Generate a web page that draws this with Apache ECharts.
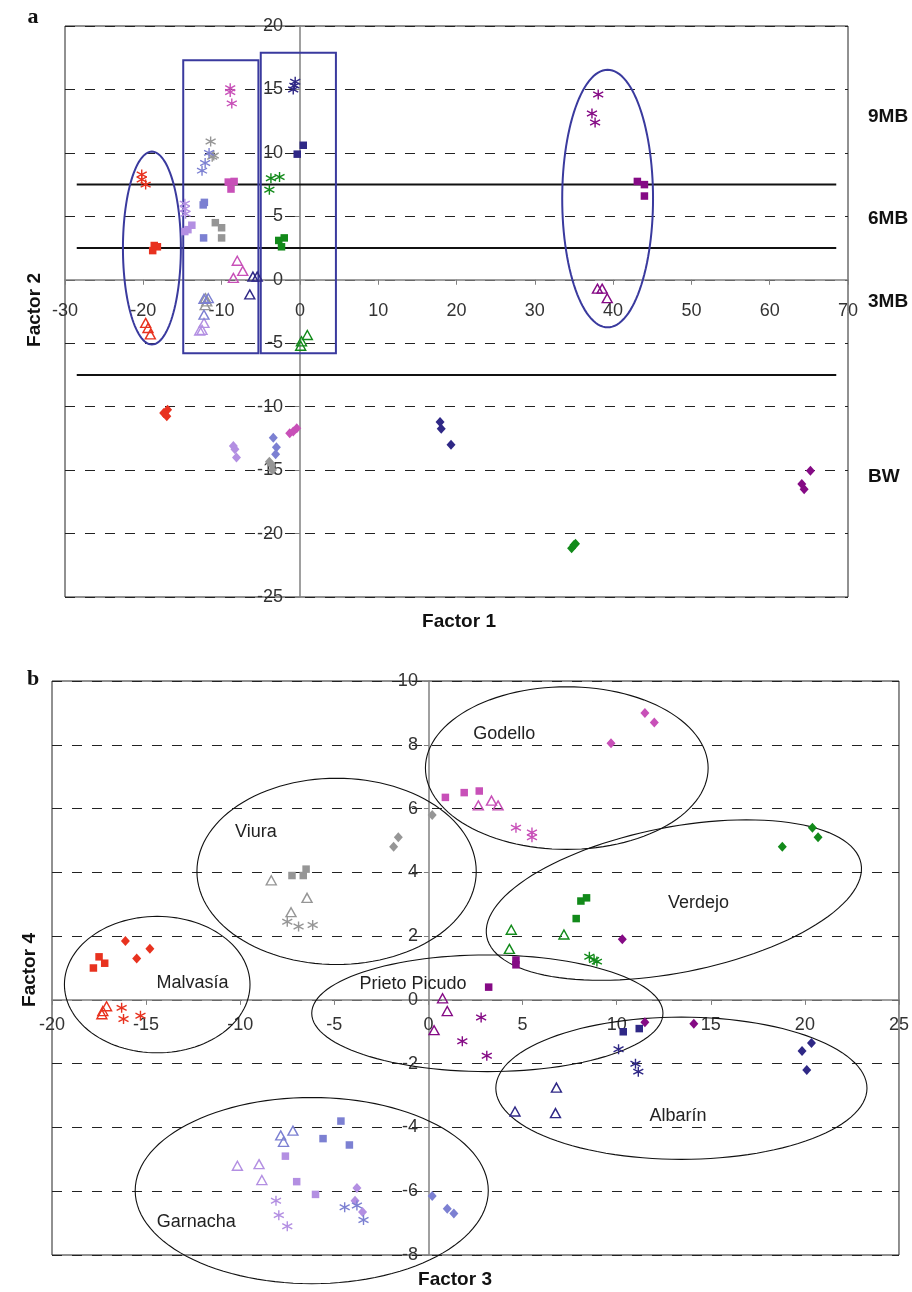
<!DOCTYPE html>
<html><head><meta charset="utf-8">
<script src="https://cdn.jsdelivr.net/npm/echarts@6/dist/echarts.min.js"></script>
<style>html,body{margin:0;padding:0;background:#fff}#c{width:912px;height:1292px}</style>
</head><body><div id="c"></div><script>
// Variety index: 0 Malvasía, 1 Viura, 2 Godello, 3 Verdejo, 4 Prieto Picudo, 5 Albarín, 6 Garnacha (lilac), 7 Garnacha (blue)
const VARIETIES = ['Malvasía','Viura','Godello','Verdejo','Prieto Picudo','Albarín','Garnacha','Garnacha 2'];
const METHODS = ['BW','3MB','6MB','9MB'];

// Panel a: [Factor 1, Factor 2, variety]
const A_BW = [[-17.4,-10.5,0],[-16.9,-10.25,0],[-17.0,-10.75,0],
 [-3.9,-14.35,1],[-3.6,-14.6,1],[-3.5,-15.0,1],
 [-1.3,-12.1,2],[-0.85,-11.95,2],[-0.4,-11.7,2],
 [34.7,-21.15,3],[35.0,-20.9,3],[35.2,-20.8,3],
 [65.2,-15.05,4],[64.1,-16.1,4],[64.4,-16.5,4],
 [17.9,-11.2,5],[18.05,-11.75,5],[19.3,-13.0,5],
 [-8.5,-13.1,6],[-8.3,-13.35,6],[-8.1,-14.0,6],
 [-3.4,-12.45,7],[-3.0,-13.2,7],[-3.1,-13.75,7]];
const A_3MB = [[-19.7,-3.4,0],[-19.4,-3.8,0],[-19.1,-4.3,0],
 [-12.05,-1.45,1],[-11.9,-1.7,1],[-12.1,-2.0,1],
 [-8.0,1.5,2],[-7.3,0.7,2],[-8.5,0.15,2],
 [0.95,-4.35,3],[0.2,-4.85,3],[0.1,-5.2,3],
 [38.0,-0.7,4],[38.6,-0.7,4],[39.25,-1.45,4],
 [-6.0,0.25,5],[-5.45,0.25,5],[-6.4,-1.15,5],
 [-12.25,-3.4,6],[-12.5,-3.95,6],[-12.8,-4.0,6],
 [-12.25,-1.5,7],[-11.7,-1.45,7],[-12.25,-2.75,7]];
const A_6MB = [[-18.6,2.7,0],[-18.2,2.6,0],[-18.8,2.3,0],
 [-10.8,4.5,1],[-10.0,4.1,1],[-10.0,3.3,1],
 [-9.15,7.7,2],[-8.4,7.75,2],[-8.8,7.15,2],
 [-2.7,3.1,3],[-2.0,3.3,3],[-2.35,2.6,3],
 [43.1,7.75,4],[44.0,7.5,4],[44.0,6.6,4],
 [0.43,10.6,5],[-0.34,9.9,5],
 [-14.7,3.8,6],[-13.8,4.3,6],[-14.3,3.95,6],
 [-12.2,6.1,7],[-12.35,5.9,7],[-12.3,3.3,7]];
const A_9MB = [[-20.2,8.3,0],[-20.2,7.9,0],[-19.7,7.5,0],
 [-11.4,10.9,1],[-11.0,9.8,1],[-11.2,9.7,1],
 [-8.9,15.1,2],[-8.9,14.8,2],[-8.7,13.9,2],
 [-3.7,8.0,3],[-2.6,8.1,3],[-3.9,7.1,3],
 [38.1,14.6,4],[37.3,13.1,4],[37.7,12.4,4],
 [-0.6,15.6,5],[-0.7,15.3,5],[-0.85,15.0,5],
 [-14.7,6.0,6],[-14.7,5.6,6],[-14.6,5.2,6],
 [-11.6,10.0,7],[-12.1,9.2,7],[-12.5,8.6,7]];

// Panel b: [Factor 3, Factor 4, variety]
const B_BW = [[-16.1,1.85,0],[-15.5,1.3,0],[-14.8,1.6,0],
 [-1.85,4.8,1],[-1.6,5.1,1],[0.2,5.8,1],
 [11.5,9.0,2],[12.0,8.7,2],[9.7,8.05,2],
 [20.4,5.4,3],[20.7,5.1,3],[18.8,4.8,3],
 [10.3,1.9,4],[11.5,-0.7,4],[14.1,-0.75,4],
 [20.35,-1.35,5],[19.85,-1.6,5],[20.1,-2.2,5],
 [-3.8,-5.9,6],[-3.9,-6.3,6],[-3.5,-6.65,6],
 [0.2,-6.15,7],[1.0,-6.55,7],[1.35,-6.7,7]];
const B_3MB = [[-17.35,-0.45,0],[-17.3,-0.35,0],[-17.1,-0.2,0],
 [-8.35,3.75,1],[-6.45,3.2,1],[-7.3,2.75,1],
 [2.65,6.1,2],[3.35,6.25,2],[3.7,6.1,2],
 [4.4,2.2,3],[4.3,1.6,3],[7.2,2.05,3],
 [0.75,0.05,4],[1.0,-0.35,4],[0.3,-0.95,4],
 [6.8,-2.75,5],[4.6,-3.5,5],[6.75,-3.55,5],
 [-10.15,-5.2,6],[-9.0,-5.15,6],[-8.85,-5.65,6],
 [-7.2,-4.1,7],[-7.85,-4.25,7],[-7.7,-4.45,7]];
const B_6MB = [[-17.8,1.0,0],[-17.5,1.35,0],[-17.2,1.15,0],
 [-7.25,3.9,1],[-6.65,3.9,1],[-6.5,4.1,1],
 [0.9,6.35,2],[1.9,6.5,2],[2.7,6.55,2],
 [8.1,3.1,3],[8.4,3.2,3],[7.85,2.55,3],
 [4.65,1.25,4],[4.65,1.1,4],[3.2,0.4,4],
 [10.35,-1.0,5],[11.2,-0.9,5],
 [-7.6,-4.9,6],[-7.0,-5.7,6],[-6.0,-6.1,6],
 [-4.65,-3.8,7],[-5.6,-4.35,7],[-4.2,-4.55,7]];
const B_9MB = [[-16.3,-0.25,0],[-16.2,-0.6,0],[-15.3,-0.5,0],
 [-7.5,2.45,1],[-6.9,2.3,1],[-6.15,2.35,1],
 [4.65,5.4,2],[5.5,5.25,2],[5.5,5.1,2],
 [8.55,1.35,3],[8.95,1.2,3],[8.8,1.25,3],
 [2.8,-0.55,4],[1.8,-1.3,4],[3.1,-1.75,4],
 [10.1,-1.55,5],[11.0,-2.0,5],[11.15,-2.25,5],
 [-8.1,-6.3,6],[-7.95,-6.75,6],[-7.5,-7.1,6],
 [-4.45,-6.5,7],[-3.8,-6.45,7],[-3.45,-6.9,7]];

// Annotations (data units)
const A_BOUNDARY_Y = [7.5, 2.5, -7.5];
const A_BOUNDARY_X = [-28.5, 68.5];
const A_BOUNDARY_LABELS = ['9MB','6MB','3MB','BW'];
const A_ELLIPSES = [[-18.9,2.5,3.7,7.6,0],[39.3,6.4,5.8,10.15,0]];
const A_RECTS = [[-14.9,-5.8,-5.3,17.3],[-5.0,-5.8,4.6,17.9]];
const B_ELLIPSES = [[7.35,7.27,7.51,2.55,0],[-4.88,4.03,7.42,2.92,0],[13.04,3.13,10.13,2.28,11.1],
 [-14.41,0.48,4.93,2.14,0],[3.13,-0.42,9.33,1.83,0],[13.44,-2.77,9.86,2.23,0],[-6.2,-5.98,9.38,2.92,0]];
const B_LABELS = [['Godello',4.03,8.34],['Viura',-9.17,5.25],['Malvasía',-12.53,0.52],['Prieto Picudo',-0.82,0.5],
 ['Verdejo',14.35,3.03],['Albarín',13.26,-3.63],['Garnacha',-12.34,-6.97]];

const COLORS = ['#e8321f','#969696','#c850b8','#128a1a','#850a85','#2f2886','#b38fe2','#7c80d2'];
const FONT = 'Liberation Sans, Arial, sans-serif';

const GRIDS = [
  {left:65, top:26, width:783, height:571},
  {left:52, top:681, width:848, height:574}
];
const X_RANGES = [[-30,70,10],[-20,25,5]];
const Y_RANGES = [[-25,20,5],[-8,10,2]];

const chart = echarts.init(document.getElementById('c'), null, {renderer:'canvas'});

function axisCommon(){
  return {
    type:'value',
    axisLine:{onZero:false, lineStyle:{color:'#808080', width:1.5}},
    axisTick:{show:true, length:5, lineStyle:{color:'#808080'}},
    splitLine:{show:false},
    axisLabel:{fontSize:18, color:'#333', fontFamily:FONT}
  };
}
const X_MARGINS = [22, 16], Y_MARGINS = [17, 11];
const xAxes = X_RANGES.map((r, i) => {
  const a = axisCommon();
  const g = GRIDS[i];
  const yr = Y_RANGES[i];
  const off = -g.height * (0 - yr[0]) / (yr[1] - yr[0]);
  return Object.assign(a, {gridIndex:i, position:'bottom', offset:off, min:r[0], max:r[1], interval:r[2],
    axisLabel:Object.assign(a.axisLabel, {margin:X_MARGINS[i]})});
});
const yAxes = Y_RANGES.map((r, i) => {
  const a = axisCommon();
  const g = GRIDS[i];
  const xr = X_RANGES[i];
  const off = -g.width * (0 - xr[0]) / (xr[1] - xr[0]);
  return Object.assign(a, {gridIndex:i, position:'left', offset:off, min:r[0], max:r[1], interval:r[2],
    axisLabel:Object.assign(a.axisLabel, {margin:Y_MARGINS[i]}),
    splitLine:{show:true, lineStyle:{type:[10,10], color:'#222', width:1}}});
});

const SYMBOLS = {
  BW:'diamond', '3MB':'triangle', '6MB':'rect',
  '9MB':'path://M5,0L5,10M0.6,2.4L9.4,7.6M0.6,7.6L9.4,2.4'
};
const SIZES = {BW:[9,10], '3MB':[10,9], '6MB':7.5, '9MB':10};

const series = [];
function addPanel(panel, sets){
  METHODS.forEach((m, mi) => {
    const arr = sets[mi];
    VARIETIES.forEach((v, vi) => {
      const pts = arr.filter(p => p[2] === vi).map(p => [p[0], p[1]]);
      if (!pts.length) return;
      const c = COLORS[vi];
      let itemStyle;
      if (m === '3MB' || m === '9MB') itemStyle = {color:'rgba(255,255,255,0)', borderColor:c, borderWidth:1.4, opacity:1};
      else itemStyle = {color:c, opacity:1};
      series.push({
        type:'scatter', name:v+' '+m, xAxisIndex:panel, yAxisIndex:panel,
        data:pts, symbol:SYMBOLS[m], symbolSize:SIZES[m], itemStyle,
        silent:true, z:5, emphasis:{disabled:true}
      });
    });
  });
}
addPanel(0, [A_BW, A_3MB, A_6MB, A_9MB]);
addPanel(1, [B_BW, B_3MB, B_6MB, B_9MB]);

function ellipsePoints(c, rx, ry, rotDeg){
  const phi = rotDeg*Math.PI/180, pts = [];
  for (let i=0;i<120;i++){
    const t = i/120*Math.PI*2;
    const a = rx*Math.cos(t), b = ry*Math.sin(t);
    pts.push([c[0] + a*Math.cos(phi) + b*Math.sin(phi), c[1] - a*Math.sin(phi) + b*Math.cos(phi)]);
  }
  return pts;
}
function ellipseSeries(panel, list, color, width){
  return {
    type:'custom', xAxisIndex:panel, yAxisIndex:panel, silent:true, z:4,
    data:list.map(e => [e[0], e[1]]),
    renderItem:(params, api) => {
      const e = list[params.dataIndex];
      const c = api.coord([e[0], e[1]]);
      const rx = api.size([e[2], 0])[0], ry = api.size([0, e[3]])[1];
      return {type:'polygon', shape:{points:ellipsePoints(c, rx, ry, e[4])},
        style:{fill:'none', stroke:color, lineWidth:width}};
    }
  };
}
series.push(ellipseSeries(0, A_ELLIPSES, '#3a3a9e', 2));
series.push(ellipseSeries(1, B_ELLIPSES, '#111', 1.1));
series.push({
  type:'custom', xAxisIndex:0, yAxisIndex:0, silent:true, z:4,
  data:A_RECTS.map(r => [r[0], r[1]]),
  renderItem:(params, api) => {
    const r = A_RECTS[params.dataIndex];
    const p0 = api.coord([r[0], r[3]]), p1 = api.coord([r[2], r[1]]);
    return {type:'rect', shape:{x:p0[0], y:p0[1], width:p1[0]-p0[0], height:p1[1]-p0[1]},
      style:{fill:'none', stroke:'#3a3a9e', lineWidth:2}};
  }
});
series.push({
  type:'custom', xAxisIndex:0, yAxisIndex:0, silent:true, z:3,
  data:A_BOUNDARY_Y.map(y => [A_BOUNDARY_X[0], y]),
  renderItem:(params, api) => {
    const y = A_BOUNDARY_Y[params.dataIndex];
    const p0 = api.coord([A_BOUNDARY_X[0], y]), p1 = api.coord([A_BOUNDARY_X[1], y]);
    return {type:'line', shape:{x1:p0[0], y1:p0[1], x2:p1[0], y2:p1[1]},
      style:{stroke:'#111', lineWidth:2}};
  }
});
series.push({
  type:'custom', xAxisIndex:1, yAxisIndex:1, silent:true, z:6,
  data:B_LABELS.map(l => [l[1], l[2]]),
  renderItem:(params, api) => {
    const l = B_LABELS[params.dataIndex];
    const p = api.coord([l[1], l[2]]);
    return {type:'text', x:p[0], y:p[1],
      style:{text:l[0], fill:'#222', font:'18px '+FONT, align:'center', verticalAlign:'middle'}};
  }
});

function txt(text, x, y, font, opts){
  return Object.assign({type:'text', x, y, silent:true,
    style:{text, font, fill:'#111', align:'center', verticalAlign:'middle', textAlign:'center', textVerticalAlign:'middle'}}, opts||{});
}
const bandY = [117, 219, 302, 477];
const graphics = [
  txt('a', 33, 17, 'bold 22px Liberation Serif, serif'),
  txt('b', 33, 679, 'bold 22px Liberation Serif, serif'),
  txt('Factor 1', 459, 622, 'bold 19px '+FONT),
  txt('Factor 3', 455, 1280, 'bold 19px '+FONT),
  txt('Factor 2', 35, 310, 'bold 19px '+FONT, {rotation:Math.PI/2}),
  txt('Factor 4', 30, 970, 'bold 19px '+FONT, {rotation:Math.PI/2})
];
A_BOUNDARY_LABELS.forEach((t, i) => {
  graphics.push({type:'text', x:868, y:bandY[i], silent:true,
    style:{text:t, font:'bold 19px '+FONT, fill:'#111', align:'left', verticalAlign:'middle', textAlign:'left', textVerticalAlign:'middle'}});
});

chart.setOption({
  animation:false,
  backgroundColor:'#fff',
  grid:GRIDS.map(g => Object.assign({show:true, borderColor:'#222', borderWidth:1, backgroundColor:'transparent'}, g)),
  xAxis:xAxes, yAxis:yAxes,
  series, graphic:graphics
});
</script></body></html>
